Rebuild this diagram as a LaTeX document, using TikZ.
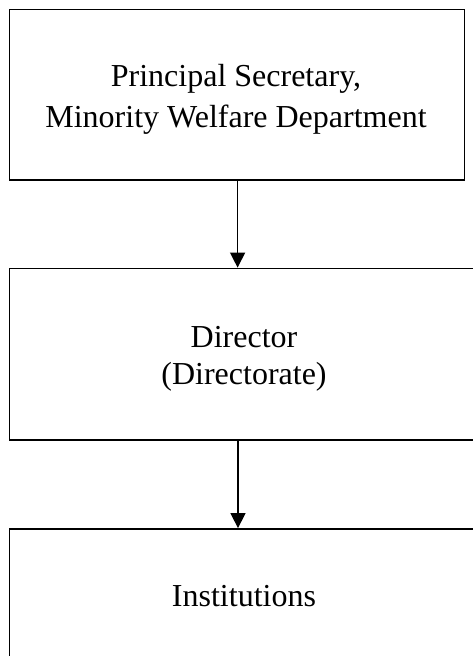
\documentclass[tikz,border=0pt]{standalone}
\usepackage{fontspec}
\setmainfont{Liberation Serif}
\usetikzlibrary{arrows.meta}
\begin{document}
\begin{tikzpicture}[x=1pt,y=-1pt,
  box/.style={draw=black, line width=1.8pt, rectangle, inner sep=0pt},
  txt/.style={inner sep=0pt, anchor=base, font=\fontsize{32}{37}\selectfont},
  arr/.style={draw=black, line width=1.4pt, -{Triangle[width=15pt,length=15pt]}}]
\useasboundingbox (0,0) rectangle (473,656);
\clip (0,0) rectangle (473,656);
\node[box, minimum width=455pt, minimum height=170.5pt] (b1) at (237,94.75) {};
\node[box, minimum width=469.5pt, minimum height=171.5pt] (b2) at (244.25,354.25) {};
\node[box, minimum width=469.5pt, minimum height=171pt] (b3) at (244.25,614.5) {};
\node[txt] (t1a) at (236,86.5) {Principal Secretary,};
\node[txt] (t1b) at (236,127) {Minority Welfare Department};
\node[txt] (t2a) at (244,347.3) {Director};
\node[txt] (t2b) at (244,384.3) {(Directorate)};
\node[txt] (t3) at (244,606.7) {Institutions};
\draw[arr] ([xshift=0.6pt]b1.south) -- ([xshift=0.6pt]b1.south |- b2.north);
\draw[arr] ([xshift=1pt]b1.south |- b2.south) -- ([xshift=1pt]b1.south |- b3.north);
\end{tikzpicture}
\end{document}
